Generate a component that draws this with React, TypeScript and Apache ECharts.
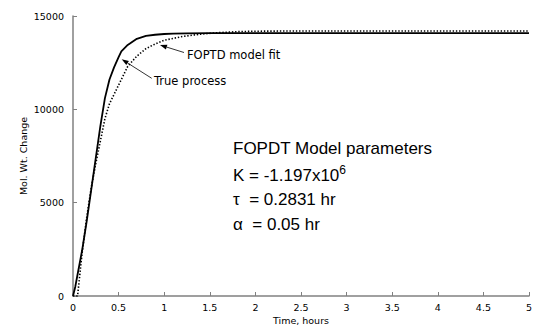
import React, { useEffect, useRef } from "react";
import * as echarts from "echarts";

// Time (hours) and values for the true process (solid line)
const trueTime = [0, 0.025, 0.05, 0.1, 0.15, 0.2, 0.25, 0.3, 0.35, 0.4, 0.45, 0.5, 0.53, 0.6, 0.7, 0.8, 0.9, 1.0, 1.1, 1.25, 1.5, 2, 3, 4, 5];
const trueValues = [0, 500, 1150, 2450, 4000, 5700, 7400, 9100, 10600, 11600, 12250, 12800, 13110, 13450, 13780, 13930, 13995, 14035, 14055, 14070, 14080, 14080, 14080, 14080, 14080];

// FOPTD model fit (dotted line)
const fitTime = [0, 0.05, 0.1, 0.15, 0.2, 0.25, 0.3, 0.35, 0.4, 0.5, 0.6, 0.7, 0.8, 0.9, 1.0, 1.2, 1.4, 1.6, 1.8, 2.0, 2.5, 3, 4, 5];
const fitValues = [0, 0, 2300, 4200, 5800, 7100, 8300, 9500, 10300, 11300, 12300, 12850, 13250, 13500, 13700, 13900, 14030, 14110, 14160, 14185, 14200, 14200, 14200, 14200];

const xTicks = { min: 0, max: 5, interval: 0.5 };
const yTicks = { min: 0, max: 15000, interval: 5000 };

const xName = "Time, hours";
const yName = "Mol. Wt. Change";

const paramLines = ["FOPDT Model parameters", "K = -1.197x10", "τ  = 0.2831 hr", "α  = 0.05 hr"];

export default function App() {
  const ref = useRef<HTMLDivElement>(null);
  useEffect(() => {
    if (!ref.current) return;
    const chart = echarts.init(ref.current, null, { renderer: "svg" });
    const tickFont = { fontFamily: "DejaVu Sans", fontSize: 9.5, color: "#000" };
    const axisLine = { show: true, lineStyle: { color: "#808080", width: 1.5 } };
    const smallFont = "11.5px 'DejaVu Sans'";
    const bigFont = "17px 'Liberation Sans'";
    chart.setOption({
      animation: false,
      backgroundColor: "#fff",
      grid: { left: 73, right: 6, top: 16, bottom: 31, containLabel: false },
      xAxis: {
        type: "value",
        min: xTicks.min,
        max: xTicks.max,
        interval: xTicks.interval,
        name: xName,
        nameLocation: "middle",
        nameGap: 19,
        nameMoveOverlap: false,
        nameTextStyle: { fontFamily: "DejaVu Sans", fontSize: 9.5, color: "#000" },
        axisLine,
        axisTick: { show: true, inside: true, length: 4, lineStyle: { color: "#808080" } },
        axisLabel: { ...tickFont, margin: 6, formatter: (v: number) => String(v) },
        splitLine: { show: false },
      },
      yAxis: {
        type: "value",
        min: yTicks.min,
        max: yTicks.max,
        interval: yTicks.interval,
        name: yName,
        nameLocation: "middle",
        nameGap: 45,
        nameMoveOverlap: false,
        nameTextStyle: { fontFamily: "DejaVu Sans", fontSize: 9.5, color: "#000" },
        axisLine,
        axisTick: { show: true, inside: true, length: 4, lineStyle: { color: "#808080" } },
        axisLabel: { ...tickFont, margin: 9, formatter: (v: number) => String(v) },
        splitLine: { show: false },
      },
      series: [
        {
          name: "True process",
          type: "line",
          data: trueTime.map((t, i) => [t, trueValues[i]]),
          showSymbol: false,
          symbol: "none",
          lineStyle: { color: "#000", width: 1.8 },
          z: 2,
        },
        {
          name: "FOPTD model fit",
          type: "line",
          data: fitTime.map((t, i) => [t, fitValues[i]]),
          showSymbol: false,
          symbol: "none",
          lineStyle: { color: "#000", width: 1.6, type: [1.4, 1.8] },
          z: 3,
        },
      ],
      graphic: [
        { type: "line", shape: { x1: 166.7, y1: 47.1, x2: 184, y2: 52.5 }, style: { stroke: "#000", lineWidth: 0.8 } },
        { type: "polygon", shape: { points: [[160, 45], [165.9, 49.5], [167.4, 44.7]] }, style: { fill: "#000" } },
        { type: "text", x: 187, y: 55, style: { text: "FOPTD model fit", font: smallFont, fill: "#000", textVerticalAlign: "middle" } },
        { type: "line", shape: { x1: 127.6, y1: 63.0, x2: 151.7, y2: 78.3 }, style: { stroke: "#000", lineWidth: 0.8 } },
        { type: "polygon", shape: { points: [[121.7, 59.3], [126.3, 65.1], [128.9, 60.9]] }, style: { fill: "#000" } },
        { type: "text", x: 154, y: 81, style: { text: "True process", font: smallFont, fill: "#000", textVerticalAlign: "middle" } },
        { type: "text", x: 233, y: 148, style: { text: paramLines[0], font: bigFont, fill: "#000", textVerticalAlign: "middle" } },
        {
          type: "text",
          x: 233,
          y: 174,
          style: {
            text: "{m|" + paramLines[1] + "}{s|6}",
            fill: "#000",
            textVerticalAlign: "middle",
            rich: {
              m: { font: bigFont, fill: "#000", verticalAlign: "bottom", lineHeight: 20 },
              s: { font: "12px 'Liberation Sans'", fill: "#000", verticalAlign: "top", lineHeight: 20, padding: [0, 0, 10, 0] },
            },
          },
        },
        { type: "text", x: 233, y: 199, style: { text: paramLines[2], font: bigFont, fill: "#000", textVerticalAlign: "middle" } },
        { type: "text", x: 233, y: 224, style: { text: paramLines[3], font: bigFont, fill: "#000", textVerticalAlign: "middle" } },
      ],
    });
    return () => chart.dispose();
  }, []);
  return (
    <div
      ref={ref}
      style={{ position: "fixed", left: 0, top: 0, width: 535, height: 330, background: "#fff" }}
    />
  );
}
